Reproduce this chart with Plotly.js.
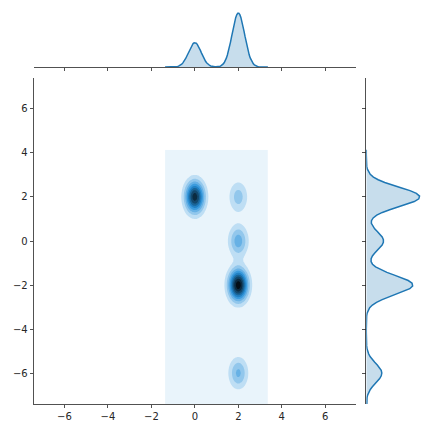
<!DOCTYPE html>
<html>
<head>
<meta charset="utf-8">
<script src="https://cdn.plot.ly/plotly-3.0.1.min.js"></script>
<style>
  html, body { margin: 0; padding: 0; background: #fff; }
  #joint { width: 432px; height: 432px; }
</style>
</head>
<body>
<div id="joint"></div>
<script>
// sample points (cluster centres) and how many observations sit on each
var pointX = [0, 2, 2, 2, 2];
var pointY = [2, 2, -2, 0, -6];
var pointCount = [24, 7, 27, 10, 9];

// kde bandwidths: joint [x, y], then the two margins
var bwJoint = [0.30, 0.48];
var bwMargX = 0.29;
var bwMargY = 0.45;

// kde grid support (data range +- cut*bw), gridsize like seaborn
var supportX = [-1.37, 3.36];
var supportY = [-8.1, 4.14];
var gridSize = 100;

// filled contour levels
var levelStep = 0.04;
var nBands = 10;

var tickVals = [-6, -4, -2, 0, 2, 4, 6];
var tickText = ['\u22126', '\u22124', '\u22122', '0', '2', '4', '6'];
var axisRange = [-7.4, 7.4];

var baseColor = '#1f77b4';
var spineColor = '#262626';

var jointplot = {

    linspace : function(a, b, n){
        var out = [];
        for (var i = 0; i < n; i++) out.push(a + (b - a) * i / (n - 1));
        return out;
    },

    gauss : function(u, bw){
        return Math.exp(-0.5 * u * u / (bw * bw)) / (bw * Math.sqrt(2 * Math.PI));
    },

    total : function(){
        return pointCount.reduce(function(s, c){ return s + c; }, 0);
    },

    kde1d : function(grid, pts, bw){
        var n = jointplot.total();
        return grid.map(function(g){
            var s = 0;
            for (var k = 0; k < pts.length; k++) s += pointCount[k] / n * jointplot.gauss(g - pts[k], bw);
            return s;
        });
    },

    kde2d : function(gx, gy){
        var n = jointplot.total();
        var z = [];
        for (var j = 0; j < gy.length; j++) {
            var row = [];
            for (var i = 0; i < gx.length; i++) {
                var s = 0;
                for (var k = 0; k < pointX.length; k++) {
                    s += pointCount[k] / n * jointplot.gauss(gx[i] - pointX[k], bwJoint[0]) * jointplot.gauss(gy[j] - pointY[k], bwJoint[1]);
                }
                row.push(s);
            }
            z.push(row);
        }
        return z;
    },

    // seaborn builds the joint cmap from the base colour, lightness 1 -> 0 in 12 steps
    rgbToHls : function(r, g, b){
        var maxc = Math.max(r, g, b), minc = Math.min(r, g, b);
        var l = (minc + maxc) / 2;
        if (minc == maxc) return [0, l, 0];
        var s = l <= 0.5 ? (maxc - minc) / (maxc + minc) : (maxc - minc) / (2 - maxc - minc);
        var rc = (maxc - r) / (maxc - minc), gc = (maxc - g) / (maxc - minc), bc = (maxc - b) / (maxc - minc);
        var h;
        if (r == maxc) h = bc - gc;
        else if (g == maxc) h = 2 + rc - bc;
        else h = 4 + gc - rc;
        h = ((h / 6) % 1 + 1) % 1;
        return [h, l, s];
    },

    hlsToRgb : function(h, l, s){
        if (s == 0) return [l, l, l];
        var m2 = l <= 0.5 ? l * (1 + s) : l + s - l * s;
        var m1 = 2 * l - m2;
        function v(hue){
            hue = ((hue % 1) + 1) % 1;
            if (hue < 1 / 6) return m1 + (m2 - m1) * hue * 6;
            if (hue < 0.5) return m2;
            if (hue < 2 / 3) return m1 + (m2 - m1) * (2 / 3 - hue) * 6;
            return m1;
        }
        return [v(h + 1 / 3), v(h), v(h - 1 / 3)];
    },

    makeColorscale : function(){
        var r = parseInt(baseColor.substr(1, 2), 16) / 255;
        var g = parseInt(baseColor.substr(3, 2), 16) / 255;
        var b = parseInt(baseColor.substr(5, 2), 16) / 255;
        var hls = jointplot.rgbToHls(r, g, b);
        var pal = [];
        for (var i = 0; i < 12; i++) pal.push(jointplot.hlsToRgb(hls[0], 1 - i / 11, hls[2]));

        function cmap(t){
            var pos = t * 11;
            var i = Math.min(Math.floor(pos), 10);
            var f = pos - i;
            var c = [0, 1, 2].map(function(q){ return Math.round(255 * (pal[i][q] + (pal[i + 1][q] - pal[i][q]) * f)); });
            return 'rgb(' + c.join(',') + ')';
        }

        // band k is filled with the colour at its midpoint, like matplotlib contourf
        var scale = [];
        for (var k = 0; k < nBands; k++) scale.push([k / (nBands - 1), cmap((k + 0.5) / nBands)]);
        return scale;
    },

    draw : function(){
        var gx = jointplot.linspace(supportX[0], supportX[1], gridSize);
        var gy = jointplot.linspace(supportY[0], supportY[1], gridSize);
        var z = jointplot.kde2d(gx, gy);
        var margX = jointplot.kde1d(gx, pointX, bwMargX);
        var margY = jointplot.kde1d(gy, pointY, bwMargY);
        var maxMX = Math.max.apply(null, margX);
        var maxMY = Math.max.apply(null, margY);

        var joint = {
            type: 'contour', x: gx, y: gy, z: z, xaxis: 'x', yaxis: 'y',
            autocontour: false,
            contours: { start: levelStep, end: levelStep * (nBands - 1), size: levelStep, coloring: 'fill', showlines: false },
            line: { width: 0, smoothing: 0 },
            colorscale: jointplot.makeColorscale(), showscale: false, hoverinfo: 'skip'
        };
        var topMarg = {
            type: 'scatter', mode: 'lines', x: gx, y: margX, xaxis: 'x2', yaxis: 'y2',
            fill: 'tozeroy', fillcolor: 'rgba(31,119,180,0.25)',
            line: { color: baseColor, width: 1.5 }, hoverinfo: 'skip'
        };
        var rightMarg = {
            type: 'scatter', mode: 'lines', x: margY, y: gy, xaxis: 'x3', yaxis: 'y3',
            fill: 'tozerox', fillcolor: 'rgba(31,119,180,0.25)',
            line: { color: baseColor, width: 1.5 }, hoverinfo: 'skip'
        };

        var spine = {
            showline: true, linecolor: spineColor, linewidth: 0.8,
            ticks: 'outside', ticklen: 3.5, tickwidth: 0.8, tickcolor: spineColor,
            tickmode: 'array', tickvals: tickVals, ticktext: tickText,
            showgrid: false, zeroline: false, range: axisRange, fixedrange: true
        };
        function ax(extra){ return Object.assign({}, spine, extra); }

        var mainX = [34 / 432, 355.7 / 432];
        var mainY = [28 / 432, 354 / 432];

        var layout = {
            width: 432, height: 432,
            margin: { l: 0, r: 0, t: 0, b: 0 },
            paper_bgcolor: '#ffffff', plot_bgcolor: 'rgba(0,0,0,0)',
            showlegend: false,
            font: { family: 'DejaVu Sans', size: 10, color: spineColor },
            xaxis: ax({ domain: mainX, anchor: 'y' }),
            yaxis: ax({ domain: mainY, anchor: 'x' }),
            xaxis2: ax({ domain: mainX, anchor: 'y2', showticklabels: false }),
            yaxis2: { domain: [365 / 432, 421.4 / 432], anchor: 'x2', range: [0, maxMX * 1.05], visible: false, fixedrange: true },
            xaxis3: { domain: [366.3 / 432, 422.2 / 432], anchor: 'y3', range: [0, maxMY * 1.05], visible: false, fixedrange: true },
            yaxis3: ax({ domain: mainY, anchor: 'x3', showticklabels: false })
        };

        Plotly.newPlot('joint', [joint, topMarg, rightMarg], layout, { displayModeBar: false, staticPlot: true });
    }
};

jointplot.draw();
</script>
</body>
</html>
